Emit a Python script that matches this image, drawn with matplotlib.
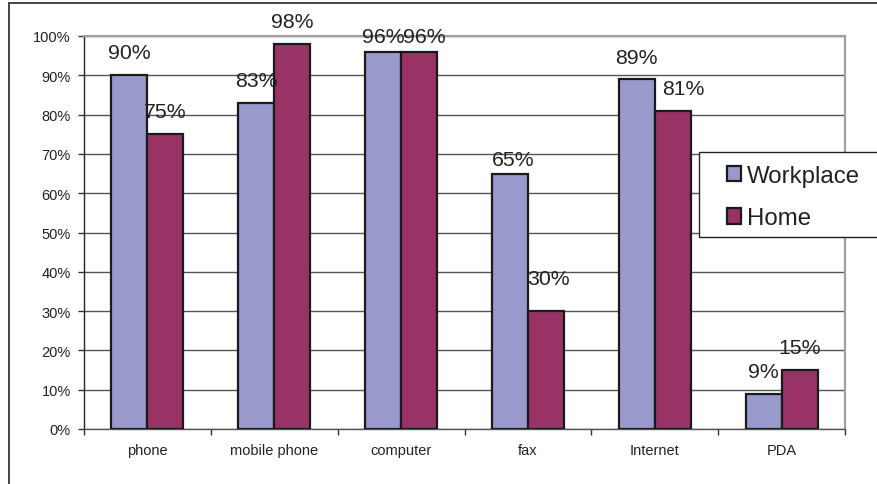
import matplotlib
matplotlib.use("Agg")
import matplotlib.pyplot as plt
import numpy as np
from matplotlib.patches import Rectangle, Patch
from matplotlib.ticker import FixedLocator, FuncFormatter

# Data
categories = ["phone", "mobile phone", "computer", "fax", "Internet", "PDA"]
workplace = [90, 83, 96, 65, 89, 9]
home = [75, 98, 96, 30, 81, 15]
series_names = ["Workplace", "Home"]
y_ticks = list(range(0, 101, 10))

# Style
colors = ["#9999CC", "#993366"]
edge = "#1a1a1a"
text_color = "#222222"
font = ["Liberation Sans", "DejaVu Sans"]
plt.rcParams["font.family"] = font

W, H, DPI = 877, 485, 100
fig = plt.figure(figsize=(W / DPI, H / DPI), dpi=DPI)
fig.patch.set_facecolor("white")

def px(x0, y0, x1, y1):
    """Figure-fraction rect from pixel box (top-left origin)."""
    return [x0 / W, 1 - y1 / H, (x1 - x0) / W, (y1 - y0) / H]

# Outer chart frame
fig.patches.append(Rectangle((8.5 / W, -0.1), 1.2, (H - 3.5) / H + 0.1,
                             transform=fig.transFigure, fill=False,
                             edgecolor="#444444", linewidth=1.4, zorder=0))

ax = fig.add_axes(px(84, 37, 845, 430))
ax.set_xlim(0, len(categories))
ax.set_ylim(0, 100)

x = np.arange(len(categories)) + 0.5
bw = 0.284
series = [workplace, home]
offsets = [-bw / 2, bw / 2]
# label placement relative to bar top (pixels): vertical gap, horizontal shift
label_gap = [[17, 17, 10, 9, 16, 17],
             [17, 17, 10, 27, 17, 17]]
label_dx = [[0, 0, 0, 3, 0, 0],
            [0, 0, 5, 3, 11, 0]]

for s, (vals, off, col) in enumerate(zip(series, offsets, colors)):
    bars = ax.bar(x + off, vals, width=bw, color=col, edgecolor=edge,
                  linewidth=1.6, zorder=3, label=series_names[s])
    for i, (b, v) in enumerate(zip(bars, vals)):
        ax.annotate(f"{v}%", (b.get_x() + b.get_width() / 2, v),
                    xytext=(label_dx[s][i] * 72 / DPI,
                            label_gap[s][i] * 72 / DPI),
                    textcoords="offset points", ha="center", va="baseline",
                    fontsize=15.3, color=text_color, zorder=4)

# Gridlines
ax.yaxis.set_major_locator(FixedLocator(y_ticks))
ax.yaxis.set_major_formatter(FuncFormatter(lambda v, p: f"{int(v)}%"))
ax.grid(axis="y", color="#555555", linewidth=1.0, zorder=1)
ax.set_axisbelow(True)

# Category ticks at boundaries, labels at centers
ax.xaxis.set_major_locator(FixedLocator(np.arange(len(categories) + 1)))
ax.xaxis.set_major_formatter(FuncFormatter(lambda v, p: ""))
ax.xaxis.set_minor_locator(FixedLocator(x))
ax.set_xticklabels(categories, minor=True)
ax.tick_params(axis="x", which="major", direction="out", length=4,
               width=1, color="#333333")
ax.tick_params(axis="x", which="minor", length=0, pad=10,
               labelsize=10.5, labelcolor=text_color)
ax.tick_params(axis="y", direction="out", length=4, width=1,
               color="#333333", pad=5.5, labelsize=10.5,
               labelcolor=text_color)

for side in ("top", "right"):
    ax.spines[side].set_color("#A0A0A0")
    ax.spines[side].set_linewidth(1.6)
ax.spines["left"].set_color("#222222")
ax.spines["left"].set_linewidth(1.0)
ax.spines["bottom"].set_color("#555555")
ax.spines["bottom"].set_linewidth(1.0)

# Legend: framed box running off the right edge
fig.patches.append(Rectangle((699 / W, 1 - 238 / H), 1.0, 85 / H,
                             transform=fig.transFigure, facecolor="white",
                             edgecolor="#222222", linewidth=1.0, zorder=5))
handles = [Patch(facecolor=c, edgecolor=edge, linewidth=1.6) for c in colors]
leg = fig.legend(handles, series_names, loc="upper left",
                 bbox_to_anchor=(727 / W, 1 - 166 / H),
                 frameon=False, fontsize=17.3, borderpad=0,
                 borderaxespad=0, handlelength=0.6, handleheight=0.6,
                 handletextpad=0.22, labelspacing=0.85)
for t in leg.get_texts():
    t.set_color(text_color)
leg.set_zorder(6)

fig.savefig("out.png", dpi=DPI)
